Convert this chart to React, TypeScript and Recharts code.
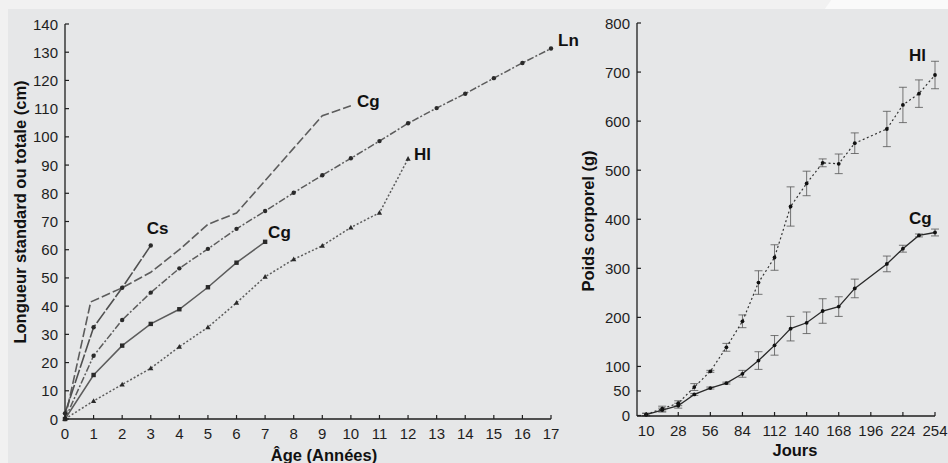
import { ErrorBar, Line, LineChart, XAxis, YAxis } from 'recharts';

// left panel: length by age (years)
const csAge = [0, 1, 2, 3];
const csLen = [2, 32.5, 46.5, 61.5];
const cgUpAge = [0, 0.9, 2, 3, 4, 5, 6, 7, 8, 9, 10];
const cgUpLen = [0, 41.5, 46.5, 52, 60, 69, 73, 84.5, 96, 107.5, 111];
const lnAge = [0, 1, 2, 3, 4, 5, 6, 7, 8, 9, 10, 11, 12, 13, 14, 15, 16, 17];
const lnLen = [0, 22.4, 35.1, 44.8, 53.4, 60.3, 67.4, 73.7, 80.2, 86.4, 92.4, 98.5, 104.8, 110.2, 115.3, 120.8, 126.2, 131.3];
const cgLowAge = [0, 1, 2, 3, 4, 5, 6, 7];
const cgLowLen = [0, 15.6, 26, 33.7, 38.9, 46.7, 55.4, 62.8];
const hlAge = [0, 1, 2, 3, 4, 5, 6, 7, 8, 9, 10, 11, 12];
const hlLen = [0, 6.4, 12.2, 18, 25.6, 32.5, 41.2, 50.4, 56.6, 61.4, 67.9, 73.1, 92.2];
const ageTicks = [0, 1, 2, 3, 4, 5, 6, 7, 8, 9, 10, 11, 12, 13, 14, 15, 16, 17];
const lenTicks = [0, 10, 20, 30, 40, 50, 60, 70, 80, 90, 100, 110, 120, 130, 140];

// right panel: body weight by day (axis positions, ticks evenly spaced)
const dayPos = [0, 14, 28, 42, 56, 70, 84, 98, 112, 126, 140, 154, 168, 182, 210, 224, 238, 252];
const hlWeight = [2, 14, 25, 58, 90, 139, 192, 271, 322, 426, 473, 515, 513, 555, 584, 633, 656, 694];
const hlSd = [3, 5, 5, 7, 2, 8, 13, 24, 26, 40, 25, 8, 20, 21, 36, 36, 28, 28];
const cgWeight = [2, 11, 20, 43, 56, 66, 85, 112, 143, 177, 189, 213, 222, 259, 309, 340, 367, 373];
const cgSd = [2, 4, 5, 2, 2, 2, 7, 18, 20, 25, 22, 25, 20, 19, 16, 7, 3, 7];
const dayTicks = [0, 28, 56, 84, 112, 140, 168, 196, 224, 252];
const dayLabels = ['10', '28', '56', '84', '112', '140', '168', '196', '224', '254'];
const weightTicks = [0, 50, 100, 200, 300, 400, 500, 600, 700, 800];

const FONT = '"Liberation Sans", Arial, sans-serif';
const INK = '#1e1e1e';

const pts = (xs: number[], ys: number[]) => xs.map((x, i) => ({ x, y: ys[i] }));

const weightRows = dayPos.map((d, i) => ({
  day: d,
  hl: hlWeight[i],
  hlSd: hlSd[i],
  cg: cgWeight[i],
  cgSd: cgSd[i],
}));

function YTick({ x, y, payload }: any) {
  return (
    <g>
      <line x1={x} x2={x + 4} y1={y} y2={y} stroke={INK} strokeWidth={1.2} />
      <text x={x - 7} y={y} textAnchor="end" dominantBaseline="central" fontSize={15} fill={INK} fontFamily={FONT}>
        {payload.value}
      </text>
    </g>
  );
}

function makeXTick(labels?: string[], ticks?: number[]) {
  return ({ x, y, payload }: any) => {
    const i = ticks ? ticks.indexOf(payload.value) : -1;
    const txt = labels && i >= 0 ? labels[i] : payload.value;
    return (
      <g>
        <line x1={x} x2={x} y1={y} y2={y - 4} stroke={INK} strokeWidth={1.2} />
        <text x={x} y={y + 14} textAnchor="middle" dominantBaseline="central" fontSize={15} fill={INK} fontFamily={FONT}>
          {txt}
        </text>
      </g>
    );
  };
}

function endLabel(text: string, last: number, dx: number, dy: number) {
  return (p: any) =>
    p.index === last ? (
      <text
        key={text + p.index}
        x={p.x + dx}
        y={p.y + dy}
        fontSize={17}
        fontWeight="bold"
        fill="#111"
        fontFamily={FONT}
        dominantBaseline="central"
      >
        {text}
      </text>
    ) : null;
}

const circleDot = (r: number, fill: string) => (p: any) =>
  <circle key={p.index} cx={p.cx} cy={p.cy} r={r} fill={fill} stroke="none" />;
const squareDot = (p: any) =>
  <rect key={p.index} x={p.cx - 2.2} y={p.cy - 2.2} width={4.4} height={4.4} fill="#2a2a2a" />;
const triDot = (p: any) => (
  <path key={p.index} d={`M${p.cx},${p.cy - 2.8}L${p.cx + 2.6},${p.cy + 2}L${p.cx - 2.6},${p.cy + 2}Z`} fill="#2a2a2a" />
);

function AxisTitle({ text, x, y, rotate }: { text: string; x: number; y: number; rotate?: boolean }) {
  return (
    <div
      style={{
        position: 'absolute',
        left: x,
        top: y,
        transform: `translate(-50%, -50%)${rotate ? ' rotate(-90deg)' : ''}`,
        fontFamily: FONT,
        fontWeight: 'bold',
        fontSize: 16.5,
        lineHeight: 1,
        whiteSpace: 'nowrap',
        color: '#111',
      }}
    >
      {text}
    </div>
  );
}

export default function App() {
  const axisLine = { stroke: INK, strokeWidth: 1.3 };
  const lineGray = '#5c5c5c';
  return (
    <div style={{ position: 'fixed', left: 0, top: 0, width: 948, height: 463, background: '#f1f1f1', overflow: 'hidden' }}>
      <div style={{ position: 'absolute', left: 835, top: -20, width: 160, height: 29, background: '#fafafa', transform: 'skewX(-35deg)' }} />
      <div style={{ position: 'absolute', left: 8, top: 9, width: 940, height: 454, background: '#e6e7e8' }} />

      <div style={{ position: 'absolute', left: 0, top: 0 }}>
        <LineChart width={600} height={463} margin={{ top: 24, right: 49, bottom: 14, left: 25 }}>
          <XAxis
            type="number"
            dataKey="x"
            domain={[0, 17]}
            ticks={ageTicks}
            interval={0}
            axisLine={axisLine}
            tickLine={false}
            tickSize={0}
            tickMargin={0}
            height={30}
            tick={makeXTick()}
          />
          <YAxis
            type="number"
            domain={[0, 140]}
            ticks={lenTicks}
            interval={0}
            axisLine={axisLine}
            tickLine={false}
            tickSize={0}
            tickMargin={0}
            width={40}
            tick={<YTick />}
          />
          <Line data={pts(hlAge, hlLen)} dataKey="y" stroke={lineGray} strokeWidth={1.5} strokeDasharray="2 2"
            dot={triDot} isAnimationActive={false} label={endLabel('Hl', hlAge.length - 1, 6, -4)} />
          <Line data={pts(cgLowAge, cgLowLen)} dataKey="y" stroke={lineGray} strokeWidth={1.5}
            dot={squareDot} isAnimationActive={false} label={endLabel('Cg', cgLowAge.length - 1, 3, -9)} />
          <Line data={pts(lnAge, lnLen)} dataKey="y" stroke={lineGray} strokeWidth={1.5} strokeDasharray="7 2 2 2"
            dot={circleDot(2.2, '#2a2a2a')} isAnimationActive={false} label={endLabel('Ln', lnAge.length - 1, 7, -8)} />
          <Line data={pts(cgUpAge, cgUpLen)} dataKey="y" stroke={lineGray} strokeWidth={1.6} strokeDasharray="9 3"
            dot={false} isAnimationActive={false} label={endLabel('Cg', cgUpAge.length - 1, 6, -4)} />
          <Line data={pts(csAge, csLen)} dataKey="y" stroke="#505050" strokeWidth={1.6} strokeDasharray="14 2"
            dot={circleDot(2.2, '#2a2a2a')} isAnimationActive={false} label={endLabel('Cs', csAge.length - 1, -4, -17)} />
        </LineChart>
      </div>

      <div style={{ position: 'absolute', left: 560, top: 0 }}>
        <LineChart width={388} height={463} data={weightRows} margin={{ top: 23, right: 13, bottom: 17, left: 32 }}>
          <XAxis
            type="number"
            dataKey="day"
            domain={[-8, 252]}
            ticks={dayTicks}
            interval={0}
            axisLine={axisLine}
            tickLine={false}
            tickSize={0}
            tickMargin={0}
            height={30}
            tick={makeXTick(dayLabels, dayTicks)}
          />
          <YAxis
            type="number"
            domain={[0, 800]}
            ticks={weightTicks}
            interval={0}
            axisLine={axisLine}
            tickLine={false}
            tickSize={0}
            tickMargin={0}
            width={45}
            tick={<YTick />}
          />
          <Line dataKey="hl" stroke="#333" strokeWidth={1.2} strokeDasharray="2 2.5"
            dot={circleDot(1.9, '#111')} isAnimationActive={false} label={endLabel('Hl', dayPos.length - 1, -26, -20)}>
            <ErrorBar dataKey="hlSd" width={4} strokeWidth={0.8} stroke="#555" direction="y" />
          </Line>
          <Line dataKey="cg" stroke="#2a2a2a" strokeWidth={1.3}
            dot={circleDot(1.9, '#111')} isAnimationActive={false} label={endLabel('Cg', dayPos.length - 1, -26, -14)}>
            <ErrorBar dataKey="cgSd" width={4} strokeWidth={0.8} stroke="#555" direction="y" />
          </Line>
        </LineChart>
      </div>

      <AxisTitle text="Longueur standard ou totale (cm)" x={20} y={212} rotate />
      <AxisTitle text="Âge (Années)" x={324} y={455} />
      <AxisTitle text="Poids corporel (g)" x={588} y={221} rotate />
      <AxisTitle text="Jours" x={795} y={450} />
    </div>
  );
}
